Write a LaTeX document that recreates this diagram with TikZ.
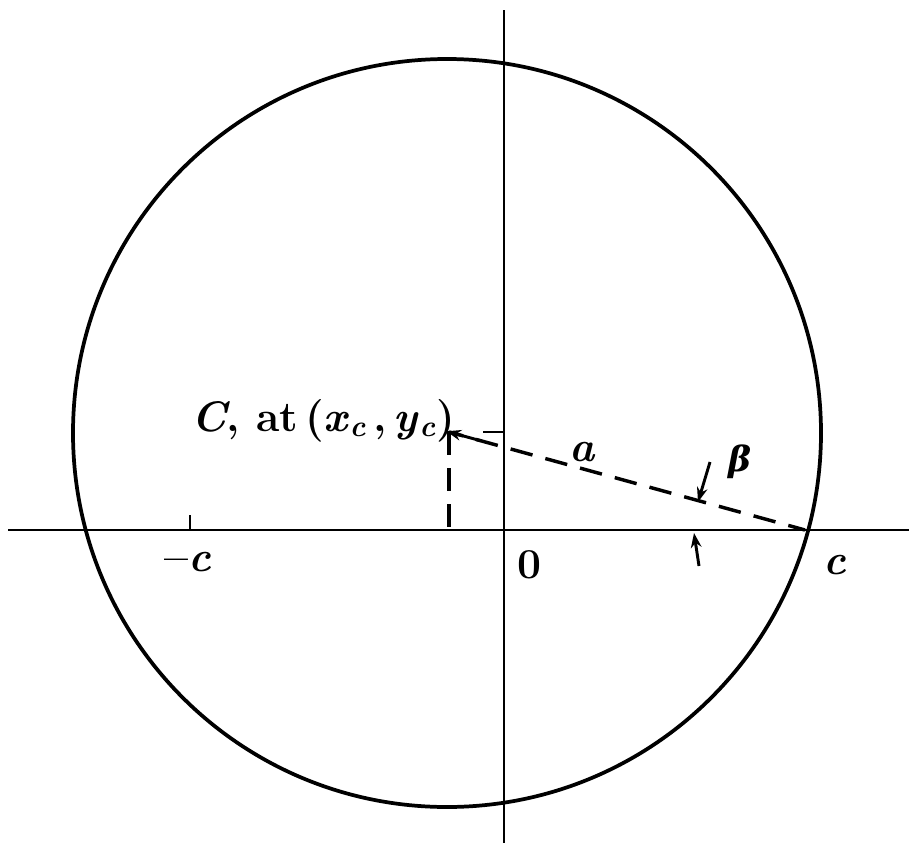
\documentclass[tikz,border=0pt]{standalone}
\usepackage{fontspec}
\newfontfamily\grk{DejaVu Serif}
\usetikzlibrary{arrows.meta,calc}
\begin{document}
\begin{tikzpicture}[x=0.75pt,y=-0.75pt,
  axis/.style={line width=2pt},
  circ/.style={line width=2.8pt},
  dashln/.style={line width=2.6pt, dash pattern=on 17pt off 10pt},
  lbl/.style={font=\fontsize{32}{36}\selectfont\bfseries, inner sep=0pt},
  tick/.style={line width=2pt},
  arr/.style={line width=2.2pt, -{Stealth[length=11pt,width=8pt]}}]
\useasboundingbox (0,0) rectangle (909,846);
% axes
\coordinate (xl) at (8,530); \coordinate (xr) at (909,530);
\coordinate (yt) at (504,10); \coordinate (yb) at (504,843);
\draw[axis] (xl) -- (xr);
\draw[axis] (yt) -- (yb);
% circle
\coordinate (C) at (449,432);
\draw[circ] (447,433) circle[radius=374];
% points
\coordinate (c) at (805,530);
\coordinate (cfoot) at (449,530);
\coordinate (ytick1) at (483,432); \coordinate (ytick2) at (503,432);
\coordinate (mc1) at (190,530); \coordinate (mc2) at (190,515);
% dashed lines
\draw[dashln] (C) -- (cfoot);
\draw[dashln, dash phase=4pt] (c) -- (C);
\draw[arr, shorten >=-2pt] ($(C)!0.09!(c)$) -- (C);
\draw[tick] (ytick1) -- (ytick2);
\draw[tick] (mc1) -- (mc2);
% beta arrows
\coordinate (b1s) at (710,462); \coordinate (b1e) at (698,502);
\coordinate (b2s) at (699,566); \coordinate (b2e) at (694,533);
\draw[arr] (b1s) -- (b1e);
\draw[arr] (b2s) -- (b2e);
% labels
\node[lbl, anchor=south east] (lc) at (455,442) {\textit{C}, at\,(\textit{x}\textsubscript{\textit{c}}\,,\,\textit{y}\textsubscript{\textit{c}})};
\node[lbl] (la) at (583,452) {\textit{a}};
\node[lbl, font=\fontsize{26}{30}\selectfont\bfseries] (lb) at (740,462) {\grk\itshape β};
\node[lbl] (lmc) at (188,562) {\textendash\textit{c}};
\node[lbl] (l0) at (530,565) {0};
\node[lbl] (lcc) at (835,565) {\textit{c}};
\end{tikzpicture}
\end{document}
